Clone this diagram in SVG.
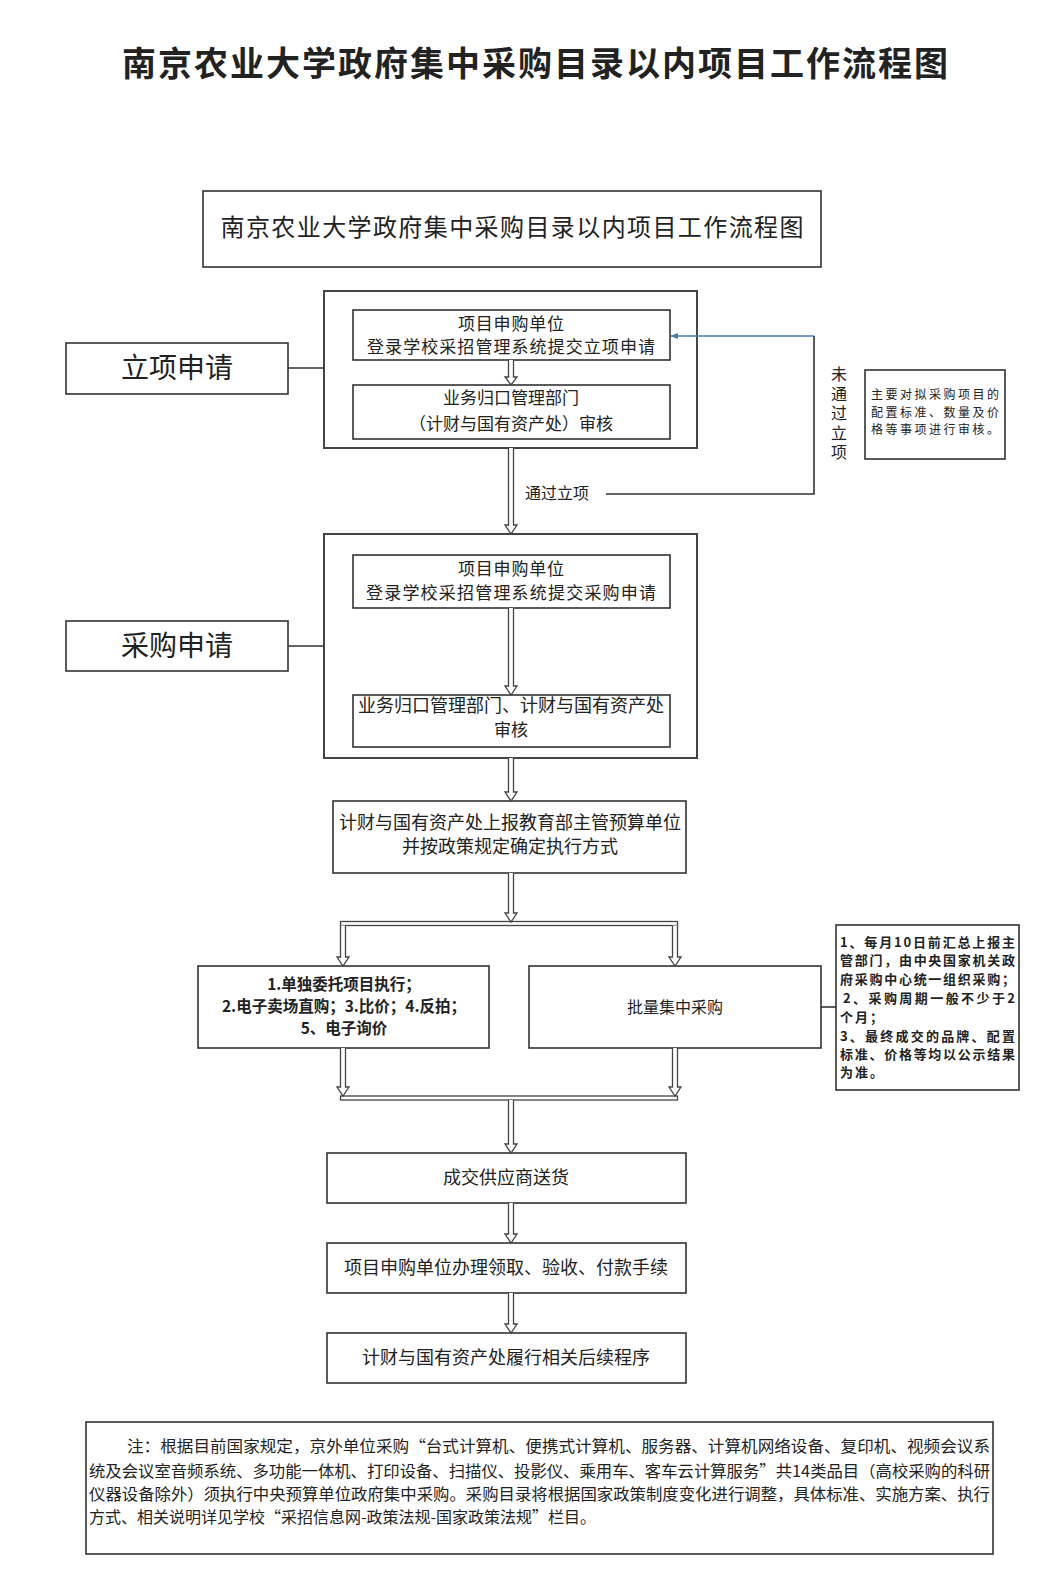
<svg xmlns="http://www.w3.org/2000/svg" width="1054" height="1589" viewBox="0 0 1054 1589">
<style>
text{font-family:"Noto Sans CJK SC","Noto Sans",sans-serif;fill:#222;}
.box{fill:none;stroke:#444;stroke-width:2;}
.thin{fill:#fff;stroke:#333;stroke-width:1.6;}
.ln{fill:none;stroke:#333;stroke-width:1.6;}
.arr{fill:#fff;stroke:#444;stroke-width:1.3;}
.c{text-anchor:middle;}
.t17{font-size:17px;}
.t18{font-size:18px;}
.b{font-weight:bold;}
</style>
<defs>
<marker id="blueHead" viewBox="0 0 10 10" refX="9" refY="5" markerWidth="8" markerHeight="8" orient="auto" markerUnits="userSpaceOnUse">
<path d="M0,1 L10,5 L0,9 Z" fill="#4a7ab5"/>
</marker>
</defs>
<rect width="1054" height="1589" fill="#fff"/>

<g id="title"><text x="535" y="76" class="c b" font-size="34" textLength="826" lengthAdjust="spacing">南京农业大学政府集中采购目录以内项目工作流程图</text></g>

<g id="header"><rect class="thin" x="203" y="191" width="618" height="76"/>
<text x="512" y="236" class="c" font-size="24" textLength="583" lengthAdjust="spacing">南京农业大学政府集中采购目录以内项目工作流程图</text></g>

<g id="label-lixiang"><rect class="thin" x="66" y="343" width="222" height="51"/>
<text x="177" y="378" class="c" font-size="28">立项申请</text></g>

<g id="stage1"><rect class="box" x="324" y="291" width="373" height="157"/></g>
<g id="node-1a"><rect class="thin" x="353" y="310" width="317" height="50"/>
<text x="511" y="330" class="c t17" textLength="106" lengthAdjust="spacing">项目申购单位</text>
<text x="511" y="353" class="c t17" textLength="288" lengthAdjust="spacing">登录学校采招管理系统提交立项申请</text></g>
<g id="node-1b"><rect class="thin" x="353" y="385" width="317" height="54"/>
<text x="511" y="404" class="c t17">业务归口管理部门</text>
<text x="511" y="430" class="c t17">（计财与国有资产处）审核</text></g>

<g id="note-1"><rect class="thin" x="865" y="370" width="140" height="89"/>
<text x="871" y="399" font-size="12" textLength="128" lengthAdjust="spacing">主要对拟采购项目的</text>
<text x="871" y="417" font-size="12" textLength="128" lengthAdjust="spacing">配置标准、数量及价</text>
<text x="871" y="434" font-size="12" textLength="128" lengthAdjust="spacing">格等事项进行审核。</text></g>

<g id="label-caigou"><rect class="thin" x="66" y="621" width="222" height="50"/>
<text x="177" y="656" class="c" font-size="28">采购申请</text></g>

<g id="stage2"><rect class="box" x="324" y="534" width="373" height="224"/></g>
<g id="node-2a"><rect class="thin" x="353" y="555" width="317" height="53"/>
<text x="511" y="575" class="c t17" textLength="106" lengthAdjust="spacing">项目申购单位</text>
<text x="511" y="599" class="c t17" textLength="290" lengthAdjust="spacing">登录学校采招管理系统提交采购申请</text></g>
<g id="node-2b"><rect class="thin" x="353" y="695" width="317" height="52"/>
<text x="511" y="712" class="c t18">业务归口管理部门、计财与国有资产处</text>
<text x="511" y="736" class="c t17">审核</text></g>

<g id="node-3"><rect class="thin" x="333" y="801" width="353" height="72"/>
<text x="510" y="829" class="c t18">计财与国有资产处上报教育部主管预算单位</text>
<text x="510" y="853" class="c t18">并按政策规定确定执行方式</text></g>

<g id="node-4a"><rect class="thin" x="198" y="966" width="291" height="82"/>
<text x="344" y="990" class="c b" font-size="15.5">1.单独委托项目执行；</text>
<text x="344" y="1012" class="c b" font-size="15.5">2.电子卖场直购；3.比价；4.反拍；</text>
<text x="344" y="1034" class="c b" font-size="15.5">5、电子询价</text></g>

<g id="node-4b"><rect class="thin" x="529" y="966" width="292" height="82"/>
<text x="675" y="1013" class="c" font-size="16">批量集中采购</text></g>

<g id="note-2"><rect class="thin" x="836" y="925" width="183" height="165"/>
<g font-size="13" font-weight="bold">
<text x="840" y="947" textLength="175" lengthAdjust="spacing">1、每月10日前汇总上报主</text>
<text x="840" y="965" textLength="175" lengthAdjust="spacing">管部门，由中央国家机关政</text>
<text x="840" y="984" textLength="175" lengthAdjust="spacing">府采购中心统一组织采购；</text>
<text x="843" y="1003" textLength="172" lengthAdjust="spacing">2、采购周期一般不少于2</text>
<text x="840" y="1022" textLength="43" lengthAdjust="spacing">个月；</text>
<text x="840" y="1041" textLength="175" lengthAdjust="spacing">3、最终成交的品牌、配置</text>
<text x="840" y="1059" textLength="175" lengthAdjust="spacing">标准、价格等均以公示结果</text>
<text x="840" y="1077" textLength="43" lengthAdjust="spacing">为准。</text>
</g></g>

<g id="node-5"><rect class="thin" x="327" y="1153" width="359" height="50"/>
<text x="506" y="1184" class="c t18">成交供应商送货</text></g>
<g id="node-6"><rect class="thin" x="327" y="1243" width="359" height="50"/>
<text x="506" y="1274" class="c t18">项目申购单位办理领取、验收、付款手续</text></g>
<g id="node-7"><rect class="thin" x="327" y="1333" width="359" height="50"/>
<text x="506" y="1364" class="c t18">计财与国有资产处履行相关后续程序</text></g>

<g id="bottom-note"><rect class="thin" x="86" y="1422" width="907" height="132"/>
<text x="127" y="1452" font-size="16" textLength="863" lengthAdjust="spacingAndGlyphs">注：根据目前国家规定，京外单位采购“台式计算机、便携式计算机、服务器、计算机网络设备、复印机、视频会议系</text>
<text x="89" y="1477" font-size="16" textLength="901" lengthAdjust="spacingAndGlyphs">统及会议室音频系统、多功能一体机、打印设备、扫描仪、投影仪、乘用车、客车云计算服务”共14类品目（高校采购的科研</text>
<text x="89" y="1500" font-size="16" textLength="901" lengthAdjust="spacingAndGlyphs">仪器设备除外）须执行中央预算单位政府集中采购。采购目录将根据国家政策制度变化进行调整，具体标准、实施方案、执行</text>
<text x="89" y="1523" font-size="16">方式、相关说明详见学校“采招信息网-政策法规-国家政策法规”栏目。</text></g>

<g id="connectors">
<line class="ln" x1="288" y1="368" x2="324" y2="368"/>
<line class="ln" x1="288" y1="646" x2="324" y2="646"/>
<line class="ln" x1="821" y1="1007" x2="836" y2="1007"/>
<line x1="814" y1="336" x2="671" y2="336" stroke="#4a7ab5" stroke-width="1.6" marker-end="url(#blueHead)"/>
<polyline class="ln" points="814,336 814,494 606,494"/>
<path class="arr" d="M508.5,360 V377 H505 L511,385 L517,377 H513.5 V360"/>
<path class="arr" d="M508.5,448 V525 H505 L511,534 L517,525 H513.5 V448"/>
<path class="arr" d="M508.5,608 V686 H505 L511,695 L517,686 H513.5 V608"/>
<path class="arr" d="M508.5,758 V792 H505 L511,801 L517,792 H513.5 V758"/>
<rect class="arr" x="340.5" y="921.5" width="337" height="4"/>
<path class="arr" d="M508.5,873 V913 H505 L511,922 L517,913 H513.5 V873"/>
<path class="arr" d="M340.5,925.5 V957 H337 L343,966 L349,957 H345.5 V925.5"/>
<path class="arr" d="M672.5,925.5 V957 H669 L675,966 L681,957 H677.5 V925.5"/>
<rect class="arr" x="340.5" y="1096" width="337" height="4"/>
<path class="arr" d="M340.5,1048 V1087 H337 L343,1096 L349,1087 H345.5 V1048"/>
<path class="arr" d="M672.5,1048 V1087 H669 L675,1096 L681,1087 H677.5 V1048"/>
<path class="arr" d="M508.5,1100 V1144 H505 L511,1153 L517,1144 H513.5 V1100"/>
<path class="arr" d="M508.5,1203 V1234 H505 L511,1243 L517,1234 H513.5 V1203"/>
<path class="arr" d="M508.5,1293 V1324 H505 L511,1333 L517,1324 H513.5 V1293"/>
<text x="557" y="499" class="c" font-size="16">通过立项</text>
<text x="839" y="366" font-size="16" writing-mode="vertical-rl" letter-spacing="3.5">未通过立项</text>
</g>
</svg>
